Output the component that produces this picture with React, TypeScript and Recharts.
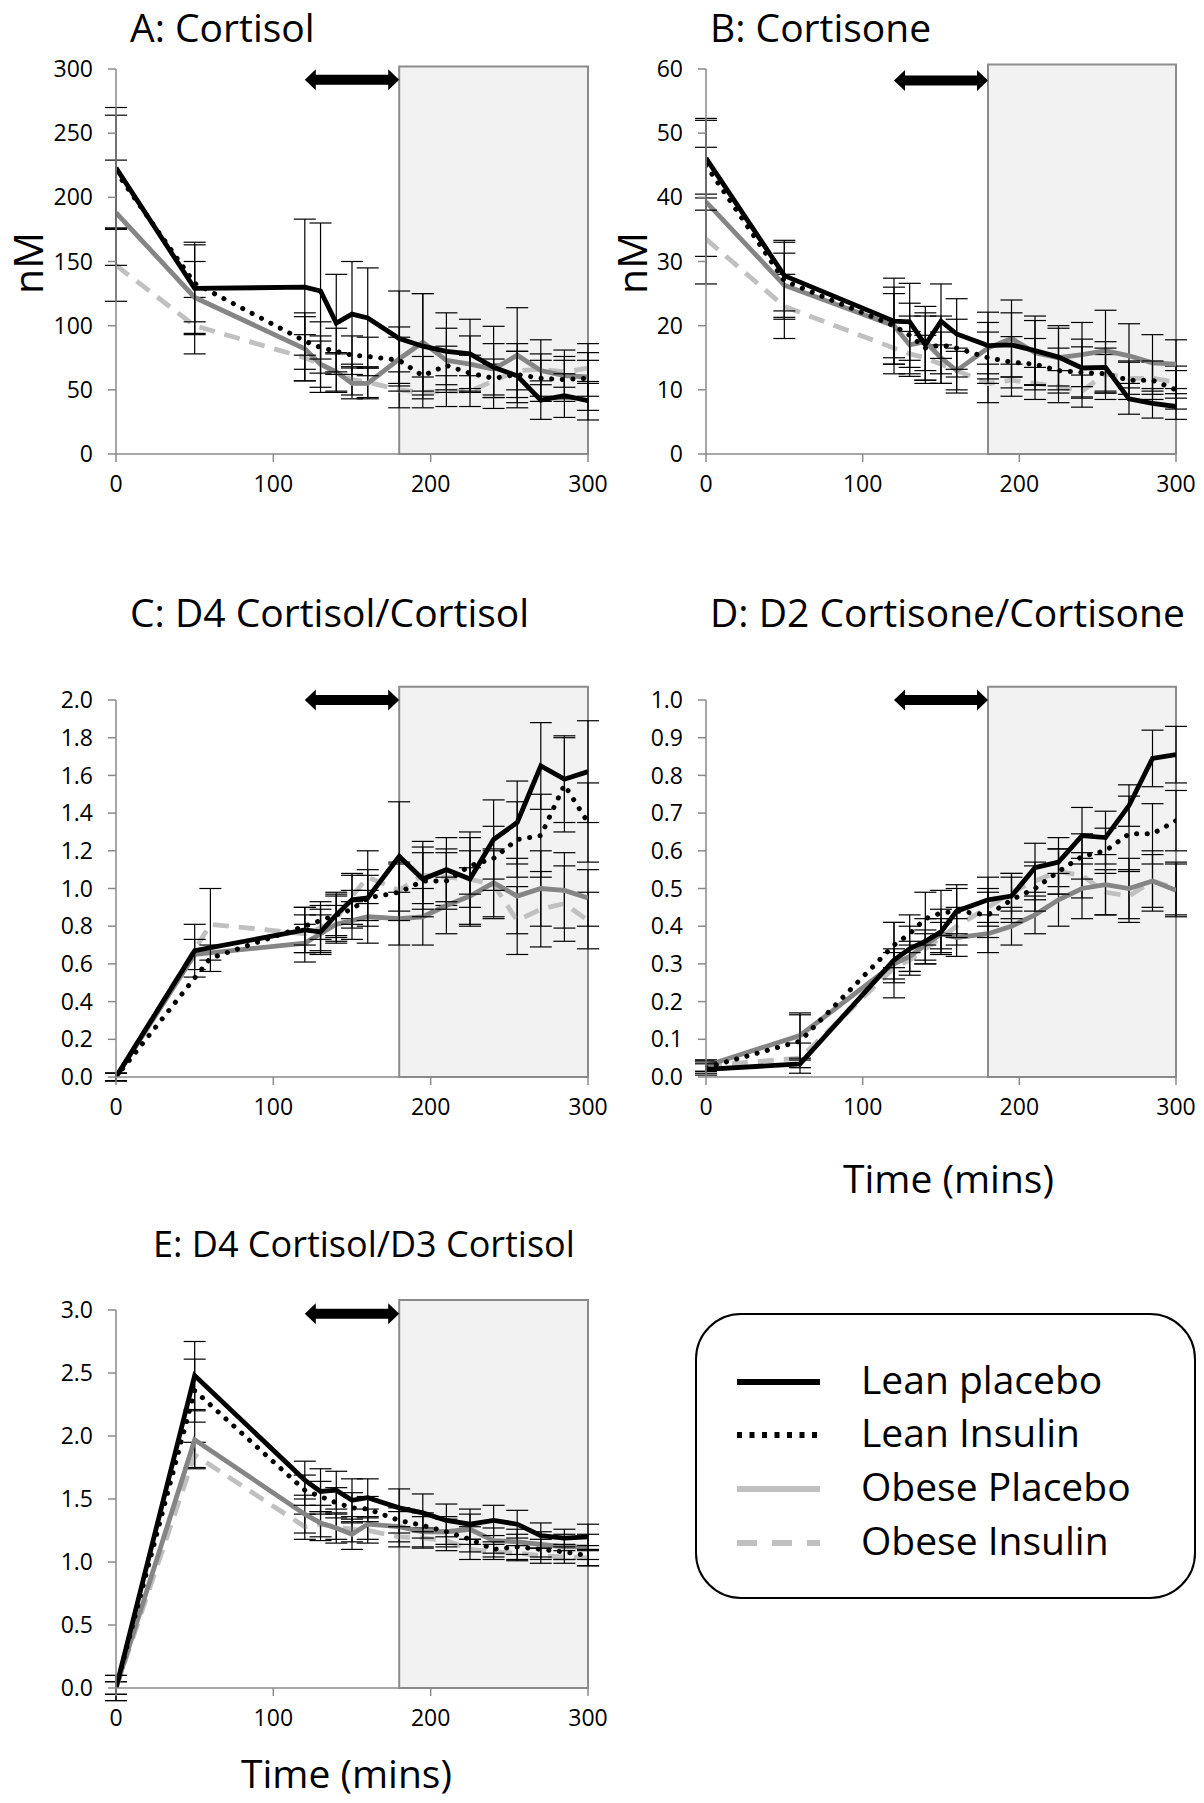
import React from 'react';
import {
  ComposedChart,
  Line,
  XAxis,
  YAxis,
  ErrorBar,
  ReferenceArea,
  ReferenceLine,
} from 'recharts';

// ---------- time points ----------
const T50 = [0, 50, 120, 130, 140, 150, 160, 180, 195, 210, 225, 240, 255, 270, 285, 300];
const T60 = [0, 60, 120, 130, 140, 150, 160, 180, 195, 210, 225, 240, 255, 270, 285, 300];
const X_TICKS = [0, 100, 200, 300];

// ---------- A: Cortisol (nM) ----------
const A_LP = [223, 129, 130, 127, 102, 109, 106, 90, 84, 80, 78, 67.5, 61, 42, 45.5, 41.5];
const A_LP_E = [47, 36, 53, 53, 38, 41, 39, 37, 41, 30, 27, 32, 25, 15, 17, 15];
const A_LI = [220, 133, 88, 83, 80, 77, 76, 73, 61, 69, 63, 59, 62, 59, 58, 59];
const A_LI_E = [44, 30, 22, 20, 18, 15, 15, 18, 15, 15, 14, 15, 18, 14, 15, 14];
const A_OP = [188, 122, 82, 70, 64, 55, 55, 74, 87, 73, 70, 66, 77, 65, 61, 60];
const A_OP_E = [41, 28, 25, 22, 15, 12, 12, 25, 38, 25, 22, 20, 37, 24, 20, 26];
const A_OI = [147, 100, 75, 70, 63, 58, 56, 50, 48, 49, 49, 57, 65, 66, 64, 67];
const A_OI_E = [28, 22, 18, 18, 15, 12, 12, 14, 12, 12, 12, 13, 15, 12, 12, 12];
const A_TICKS = [0, 50, 100, 150, 200, 250, 300];

// ---------- B: Cortisone (nM) ----------
const B_LP = [46.1, 27.8, 20.7, 20.6, 17.0, 20.7, 18.7, 16.9, 17.0, 16.1, 15.1, 13.4, 13.5, 8.6, 7.9, 7.4];
const B_LP_E = [6.2, 5.5, 6.7, 6.0, 6.0, 5.8, 5.5, 5.2, 5.0, 5.4, 4.5, 4.5, 4.0, 2.4, 2.3, 2.0];
const B_LI = [45, 27, 20, 18.5, 16.5, 17, 16.5, 15, 14.3, 14, 13, 12.7, 12.5, 11.5, 11.5, 10];
const B_LI_E = [7.0, 6.0, 6.0, 5.0, 5.0, 4.5, 4.5, 4.0, 4.0, 4.0, 3.5, 4.0, 4.0, 3.0, 3.0, 3.0];
const B_OP = [39.3, 26.3, 20, 17, 17.5, 15, 13, 16.5, 18, 15.8, 15, 15.5, 16.1, 15.3, 14.2, 14.0];
const B_OP_E = [8.5, 5.0, 5.0, 4.5, 4.5, 4.0, 3.5, 4.0, 6.0, 5.0, 5.0, 5.0, 6.3, 5.0, 4.4, 3.8];
const B_OI = [33.5, 23, 16.5, 15.6, 15, 14, 13, 11, 11.5, 11, 10.5, 9.8, 12.5, 11.8, 11.8, 11.2];
const B_OI_E = [7.0, 5.0, 4.0, 3.5, 3.5, 3.0, 3.0, 3.0, 2.5, 2.5, 2.5, 2.5, 3.0, 2.5, 2.5, 2.5];
const B_TICKS = [0, 10, 20, 30, 40, 50, 60];

// ---------- C: D4 Cortisol/Cortisol ----------
const C_LP = [0, 0.67, 0.78, 0.77, 0.86, 0.94, 0.95, 1.17, 1.05, 1.1, 1.05, 1.26, 1.35, 1.65, 1.58, 1.62];
const C_LP_E = [0.02, 0.14, 0.12, 0.12, 0.12, 0.13, 0.15, 0.29, 0.2, 0.17, 0.25, 0.21, 0.22, 0.23, 0.23, 0.27];
const C_LI = [0, 0.63, 0.8, 0.83, 0.86, 0.89, 0.95, 0.98, 1.04, 1.04, 1.12, 1.16, 1.26, 1.28, 1.55, 1.35];
const C_LI_E = [0.02, 0.07, 0.1, 0.1, 0.11, 0.1, 0.12, 0.15, 0.15, 0.15, 0.15, 0.17, 0.2, 0.22, 0.25, 0.21];
const C_OP = [0, 0.65, 0.71, 0.76, 0.81, 0.83, 0.85, 0.84, 0.85, 0.91, 0.96, 1.03, 0.96, 1.0, 0.99, 0.95];
const C_OP_E = [0.02, 0.08, 0.1, 0.1, 0.1, 0.1, 0.14, 0.14, 0.15, 0.15, 0.15, 0.18, 0.2, 0.2, 0.2, 0.15];
const C_OI = [0, 0.81, 0.76, 0.79, 0.84, 0.96, 1.06, 0.99, 1.07, 1.06, 1.05, 1.02, 0.83, 0.89, 0.92, 0.83];
const C_OI_E = [0.02, 0.19, 0.1, 0.12, 0.12, 0.12, 0.14, 0.15, 0.15, 0.15, 0.15, 0.18, 0.18, 0.2, 0.2, 0.15];
const C_TICKS = [0, 0.2, 0.4, 0.6, 0.8, 1.0, 1.2, 1.4, 1.6, 1.8, 2.0];

// ---------- D: D2 Cortisone/Cortisone ----------
const D_LP = [0.02, 0.035, 0.31, 0.34, 0.36, 0.385, 0.44, 0.47, 0.48, 0.555, 0.57, 0.64, 0.635, 0.72, 0.845, 0.855];
const D_LP_E = [0.015, 0.01, 0.1, 0.06, 0.06, 0.06, 0.07, 0.06, 0.06, 0.065, 0.065, 0.075, 0.07, 0.055, 0.075, 0.075];
const D_LI = [0.025, 0.095, 0.35, 0.38, 0.42, 0.435, 0.44, 0.43, 0.47, 0.5, 0.545, 0.585, 0.6, 0.645, 0.645, 0.68];
const D_LI_E = [0.015, 0.07, 0.06, 0.05, 0.07, 0.06, 0.06, 0.06, 0.06, 0.06, 0.06, 0.06, 0.06, 0.1, 0.08, 0.08];
const D_OP = [0.03, 0.11, 0.3, 0.32, 0.35, 0.38, 0.37, 0.38, 0.4, 0.43, 0.47, 0.5, 0.51, 0.5, 0.52, 0.495];
const D_OP_E = [0.015, 0.06, 0.04, 0.04, 0.04, 0.04, 0.05, 0.05, 0.05, 0.05, 0.07, 0.08, 0.08, 0.08, 0.08, 0.07];
const D_OI = [0.03, 0.05, 0.29, 0.31, 0.34, 0.37, 0.4, 0.45, 0.49, 0.52, 0.545, 0.535, 0.49, 0.48, 0.52, 0.5];
const D_OI_E = [0.015, 0.04, 0.04, 0.04, 0.04, 0.04, 0.05, 0.05, 0.05, 0.05, 0.06, 0.06, 0.06, 0.07, 0.07, 0.07];
const D_TICKS = [0, 0.1, 0.2, 0.3, 0.4, 0.5, 0.6, 0.7, 0.8, 0.9, 1.0];

// ---------- E: D4 Cortisol/D3 Cortisol ----------
const E_LP = [0, 2.48, 1.65, 1.56, 1.57, 1.49, 1.51, 1.43, 1.39, 1.33, 1.3, 1.33, 1.3, 1.21, 1.19, 1.2];
const E_LP_E = [0.1, 0.27, 0.15, 0.18, 0.15, 0.17, 0.15, 0.15, 0.15, 0.13, 0.12, 0.12, 0.11, 0.1, 0.07, 0.1];
const E_LI = [0, 2.36, 1.57, 1.52, 1.47, 1.43, 1.42, 1.33, 1.29, 1.24, 1.18, 1.1, 1.12, 1.1, 1.08, 1.05];
const E_LI_E = [0.1, 0.25, 0.12, 0.12, 0.12, 0.12, 0.1, 0.1, 0.1, 0.1, 0.1, 0.06, 0.1, 0.08, 0.06, 0.08];
const E_OP = [0, 1.97, 1.38, 1.31, 1.27, 1.22, 1.3, 1.28, 1.24, 1.24, 1.26, 1.17, 1.16, 1.14, 1.12, 1.12];
const E_OP_E = [0.05, 0.23, 0.15, 0.14, 0.12, 0.12, 0.12, 0.12, 0.12, 0.12, 0.12, 0.1, 0.1, 0.1, 0.1, 0.1];
const E_OI = [0, 1.85, 1.28, 1.3, 1.28, 1.26, 1.25, 1.2, 1.19, 1.17, 1.1, 1.08, 1.07, 1.05, 1.04, 1.03];
const E_OI_E = [0.05, 0.1, 0.1, 0.1, 0.1, 0.1, 0.1, 0.08, 0.08, 0.08, 0.08, 0.06, 0.06, 0.06, 0.05, 0.06];
const E_TICKS = [0, 0.5, 1.0, 1.5, 2.0, 2.5, 3.0];

const LEGEND_LABELS = ['Lean placebo', 'Lean Insulin', 'Obese Placebo', 'Obese Insulin'];

// ---------- styles ----------
const FONT = '"Open Sans", "Liberation Sans", sans-serif';
const AXIS = '#8a8a8a';
const STYLE: Record<string, any> = {
  OI: { stroke: '#c0c0c0', strokeWidth: 4.8, strokeDasharray: '16 10' },
  OP: { stroke: '#858585', strokeWidth: 4.8 },
  LI: { stroke: '#000', strokeWidth: 5, strokeDasharray: '0.1 10.5', strokeLinecap: 'round' },
  LP: { stroke: '#000', strokeWidth: 4.8 },
};

const build = (t: number[], v: number[], e: number[]) => t.map((x, i) => ({ x, y: v[i], e: e[i] }));

type Series = { key: string; data: { x: number; y: number; e: number }[] };

const ArrowShape = (p: any) => {
  const { x1, y1, x2 } = p;
  const yc = y1;
  const h = 10.5;
  const s = 5;
  const L = 11;
  const pts = [
    [x1, yc], [x1 + L, yc - h], [x1 + L, yc - s], [x2 - L, yc - s], [x2 - L, yc - h],
    [x2, yc], [x2 - L, yc + h], [x2 - L, yc + s], [x1 + L, yc + s], [x1 + L, yc + h],
  ].map((q) => q.join(',')).join(' ');
  return <polygon points={pts} fill="#000" />;
};

const YW = 70;
const MT = 30;
const MR = 20;
const XH = 60;

type PanelProps = {
  left: number; top: number; w: number; h: number;
  domain: [number, number]; ticks: number[]; dec: number;
  rectTop: number; arrowY: number; series: Series[];
};

const Panel = ({ left, top, w, h, domain, ticks, dec, rectTop, arrowY, series }: PanelProps) => (
  <div style={{ position: 'absolute', left: left - YW, top: top - MT }}>
    <ComposedChart
      width={YW + w + MR}
      height={MT + h + XH}
      margin={{ top: MT, right: MR, bottom: 0, left: 0 }}
    >
      <XAxis
        dataKey="x"
        type="number"
        domain={[0, 300]}
        ticks={X_TICKS}
        allowDataOverflow
        height={XH}
        axisLine={{ stroke: AXIS, strokeWidth: 1.5 }}
        tickLine={{ stroke: AXIS, strokeWidth: 1.5 }}
        tickSize={8}
        tickMargin={14}
        tick={{ fill: '#000', fontSize: 23, fontFamily: FONT }}
      />
      <YAxis
        type="number"
        domain={domain}
        ticks={ticks}
        allowDataOverflow
        width={YW}
        axisLine={{ stroke: AXIS, strokeWidth: 1.5 }}
        tickLine={{ stroke: AXIS, strokeWidth: 1.5 }}
        tickSize={8}
        tickMargin={15}
        tickFormatter={(v: number) => v.toFixed(dec)}
        tick={{ fill: '#000', fontSize: 23, fontFamily: FONT }}
      />
      <ReferenceArea
        x1={180}
        x2={300}
        y1={domain[0]}
        y2={rectTop}
        ifOverflow="visible"
        fill="#f2f2f2"
        fillOpacity={1}
        stroke="#8c8c8c"
        strokeWidth={2}
      />
      <ReferenceLine
        segment={[{ x: 120, y: arrowY }, { x: 180, y: arrowY }]}
        ifOverflow="visible"
        shape={ArrowShape}
      />
      {series.map((s) => (
        <Line
          key={s.key}
          data={s.data}
          dataKey="y"
          type="linear"
          dot={false}
          activeDot={false}
          isAnimationActive={false}
          {...STYLE[s.key]}
        >
          <ErrorBar dataKey="e" direction="y" width={11} stroke="#000" strokeWidth={1.2} />
        </Line>
      ))}
    </ComposedChart>
  </div>
);

const mk = (
  tLean: number[], tObese: number[],
  lp: number[], lpe: number[], li: number[], lie: number[],
  op: number[], ope: number[], oi: number[], oie: number[],
  tLI?: number[], tOI?: number[],
): Series[] => [
  { key: 'OI', data: build(tOI || tObese, oi, oie) },
  { key: 'OP', data: build(tObese, op, ope) },
  { key: 'LI', data: build(tLI || tLean, li, lie) },
  { key: 'LP', data: build(tLean, lp, lpe) },
];

const SER_A = mk(T50, T50, A_LP, A_LP_E, A_LI, A_LI_E, A_OP, A_OP_E, A_OI, A_OI_E);
const SER_B = mk(T50, T50, B_LP, B_LP_E, B_LI, B_LI_E, B_OP, B_OP_E, B_OI, B_OI_E);
const SER_C = mk(T50, T50, C_LP, C_LP_E, C_LI, C_LI_E, C_OP, C_OP_E, C_OI, C_OI_E, T60, T60);
const SER_D = mk(T60, T60, D_LP, D_LP_E, D_LI, D_LI_E, D_OP, D_OP_E, D_OI, D_OI_E);
const SER_E = mk(T50, T50, E_LP, E_LP_E, E_LI, E_LI_E, E_OP, E_OP_E, E_OI, E_OI_E);

// text whose cap-height centre sits at cy (line-height normal keeps the glyph box inside its div)
const Txt = ({ x, cy, size, children }: { x: number; cy: number; size: number; children: React.ReactNode }) => (
  <div
    style={{
      position: 'absolute', left: x, top: cy - size * 0.712, fontSize: size, lineHeight: 'normal',
      fontFamily: FONT, color: '#000', whiteSpace: 'nowrap',
    }}
  >
    {children}
  </div>
);

// vertical text reading bottom-to-top, laid out in a vertical writing mode so its box stays narrow
const VTxt = ({ cx, cy, size, children }: { cx: number; cy: number; size: number; children: React.ReactNode }) => (
  <div
    style={{
      position: 'absolute', left: cx, top: cy, fontSize: size, lineHeight: 1,
      fontFamily: FONT, color: '#000', whiteSpace: 'nowrap',
      writingMode: 'vertical-rl',
      transform: 'translate(-50%, -50%) rotate(180deg)',
    }}
  >
    {children}
  </div>
);

const Legend = () => {
  const rows = [1382, 1435, 1489, 1543];
  const lx1 = 737;
  const lx2 = 820;
  const legendStyles = [
    { stroke: '#000', strokeWidth: 6 },
    { stroke: '#000', strokeWidth: 6, strokeDasharray: '5 7.5' },
    { stroke: '#c0c0c0', strokeWidth: 6 },
    { stroke: '#c0c0c0', strokeWidth: 6, strokeDasharray: '20 15' },
  ];
  return (
    <>
      <div
        style={{
          position: 'absolute', left: 695, top: 1313, width: 501, height: 286,
          border: '2px solid #000', borderRadius: 46, boxSizing: 'border-box',
        }}
      />
      <svg style={{ position: 'absolute', left: 0, top: 0 }} width={1204} height={1803}>
        {rows.map((y, i) => (
          <line key={i} x1={lx1} x2={lx2} y1={y} y2={y} {...legendStyles[i]} />
        ))}
      </svg>
      {LEGEND_LABELS.map((t, i) => (
        <Txt key={t} x={861} cy={rows[i] - 2} size={39}>{t}</Txt>
      ))}
    </>
  );
};

export default function App() {
  return (
    <div
      style={{
        position: 'absolute', left: 0, top: 0, width: 1204, height: 1803,
        background: '#fff', overflow: 'hidden', fontFamily: FONT,
      }}
    >
      <Panel left={116} top={69} w={472} h={385} domain={[0, 300]} ticks={A_TICKS} dec={0}
        rectTop={302} arrowY={291.7} series={SER_A} />
      <Panel left={706} top={69} w={470} h={385} domain={[0, 60]} ticks={B_TICKS} dec={0}
        rectTop={60.7} arrowY={58.2} series={SER_B} />
      <Panel left={116} top={700} w={472} h={377} domain={[0, 2]} ticks={C_TICKS} dec={1}
        rectTop={2.07} arrowY={2.0} series={SER_C} />
      <Panel left={706} top={700} w={470} h={377} domain={[0, 1]} ticks={D_TICKS} dec={1}
        rectTop={1.035} arrowY={1.0} series={SER_D} />
      <Panel left={116} top={1310} w={472} h={378} domain={[0, 3]} ticks={E_TICKS} dec={1}
        rectTop={3.08} arrowY={2.97} series={SER_E} />

      <Txt x={130} cy={28} size={39}>A: Cortisol</Txt>
      <Txt x={710} cy={28} size={39}>B: Cortisone</Txt>
      <Txt x={130} cy={613} size={39}>C: D4 Cortisol/Cortisol</Txt>
      <Txt x={710} cy={613} size={39}>D: D2 Cortisone/Cortisone</Txt>
      <Txt x={153} cy={1245} size={36}>E: D4 Cortisol/D3 Cortisol</Txt>
      <Txt x={843} cy={1179} size={39}>Time (mins)</Txt>
      <Txt x={241} cy={1774} size={39}>Time (mins)</Txt>

      <VTxt cx={27} cy={263} size={41}>nM</VTxt>
      <VTxt cx={631} cy={263} size={41}>nM</VTxt>

      <Legend />
    </div>
  );
}
